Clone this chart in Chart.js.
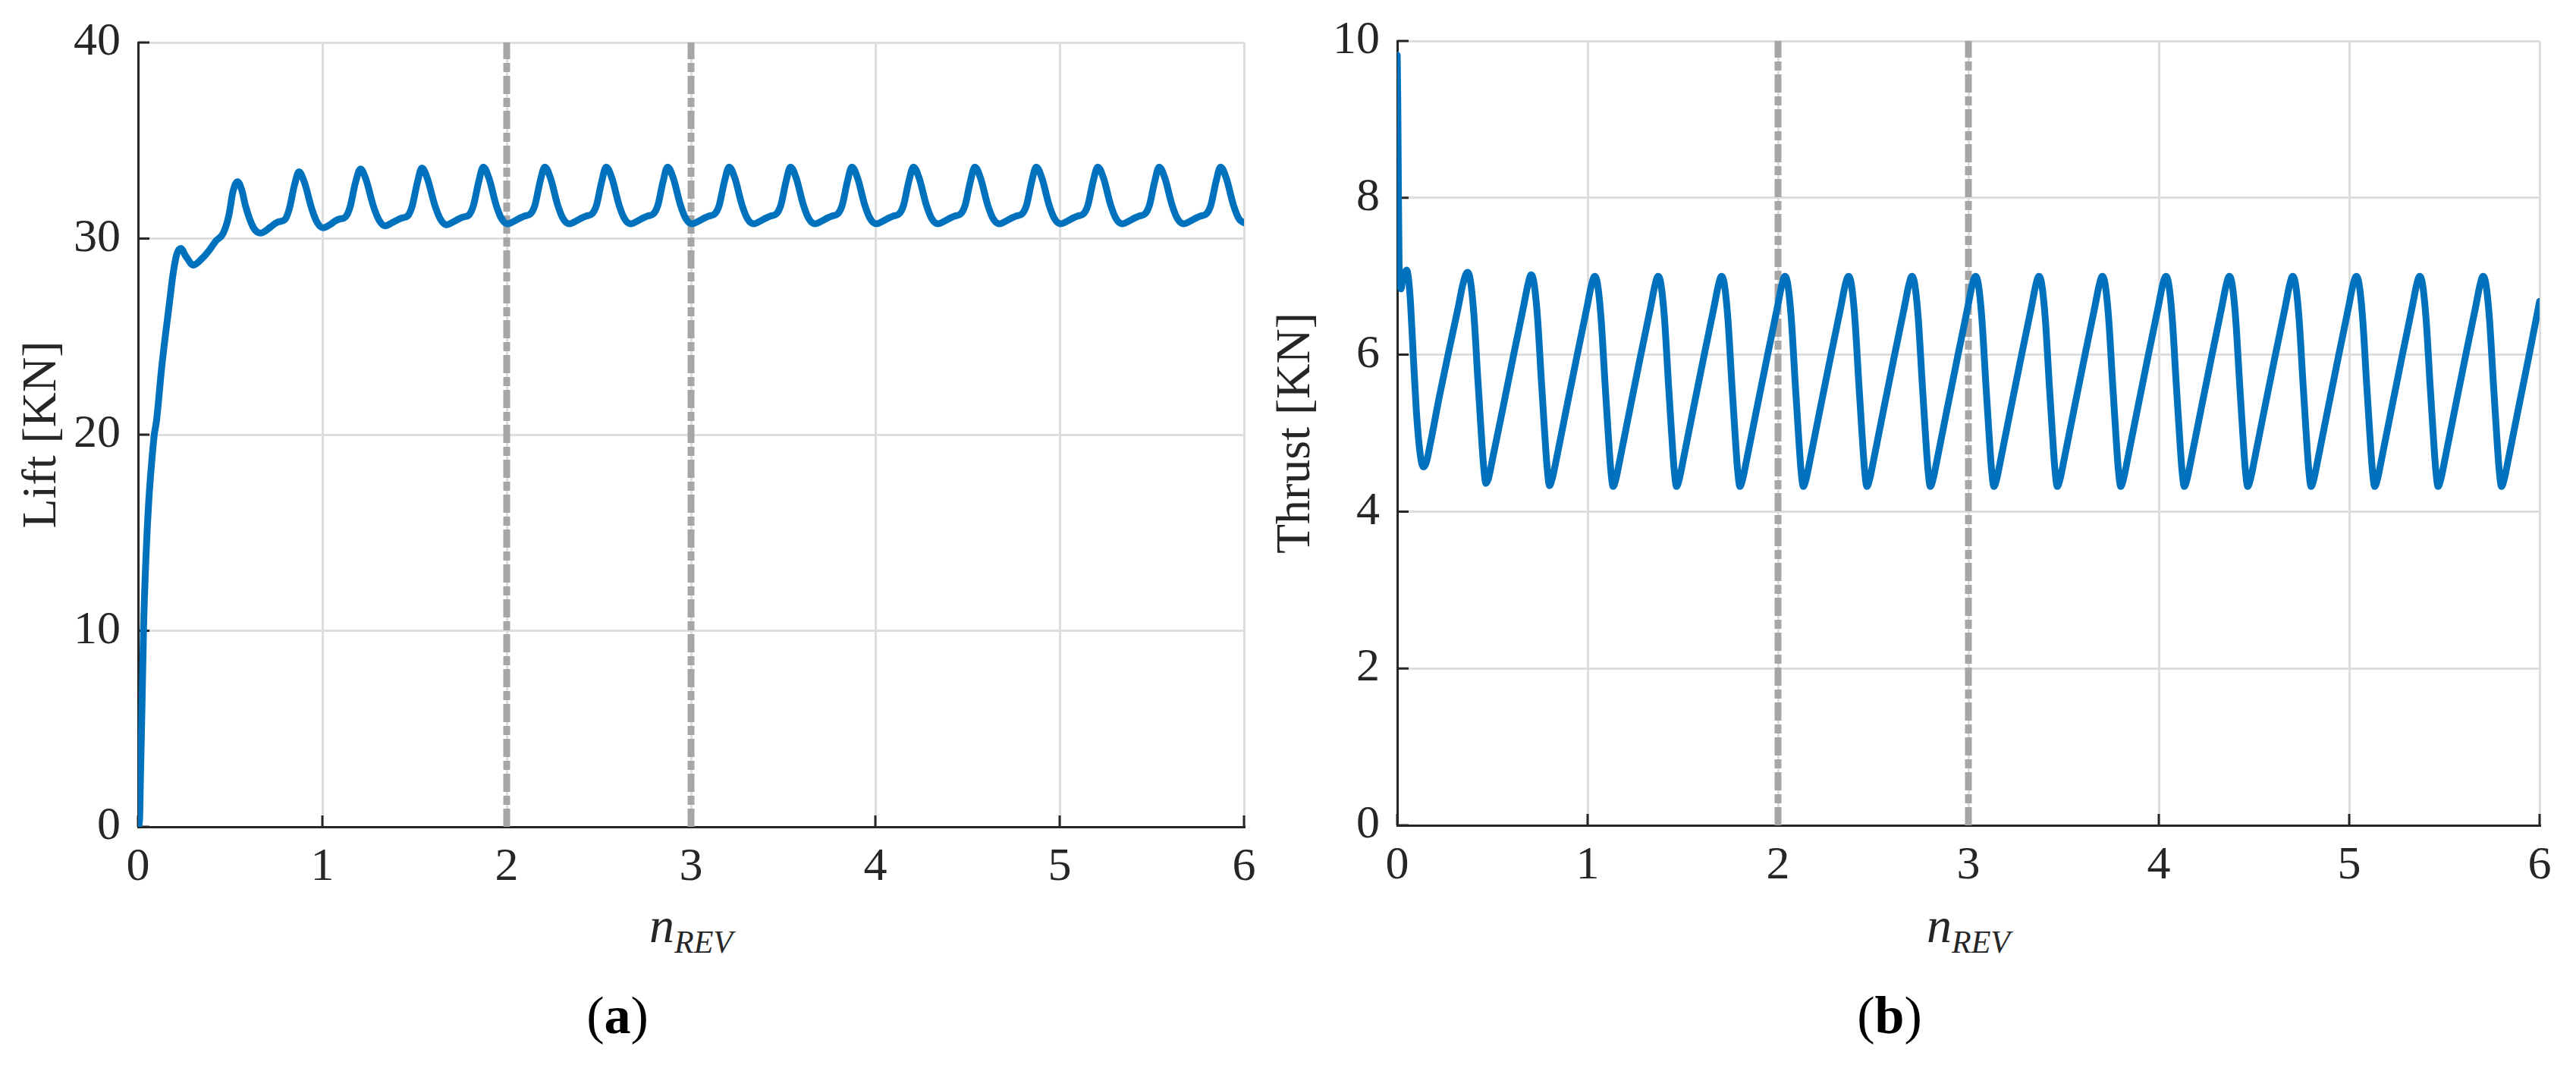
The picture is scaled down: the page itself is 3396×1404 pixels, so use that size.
<!DOCTYPE html>
<html>
<head>
<meta charset="utf-8">
<script src="https://cdn.jsdelivr.net/npm/chart.js@4.4.1/dist/chart.umd.min.js"></script>
<style>
  html, body { margin: 0; padding: 0; background: #fff; }
  #page { position: relative; width: 3396px; height: 1404px; overflow: hidden;
          font-family: 'Liberation Serif', 'DejaVu Serif', serif; color: #262626; }
  canvas { position: absolute; top: 0; }
  #liftCanvas { left: 0; }
  #thrustCanvas { left: 1660px; }
  .xtitle { position: absolute; top: 1187px; width: 400px; text-align: center;
            font-size: 66px; line-height: 66px; font-style: italic; }
  .xtitle sub { font-size: 42px; vertical-align: -14px; line-height: 0; }
  .caption { position: absolute; top: 1304px; width: 300px; text-align: center;
             font-size: 70px; line-height: 70px; color: #000; }
</style>
</head>
<body>
<div id="page">
  <canvas id="liftCanvas" width="1700" height="1180"></canvas>
  <canvas id="thrustCanvas" width="1736" height="1180"></canvas>
  <div class="xtitle" style="left:711px">n<sub>REV</sub></div>
  <div class="xtitle" style="left:2395px">n<sub>REV</sub></div>
  <div class="caption" style="left:664px">(<b>a</b>)</div>
  <div class="caption" style="left:2341px">(<b>b</b>)</div>
</div>
<script>
// axis ticks
const revTicks = [0, 1, 2, 3, 4, 5, 6];
const liftTicks = [0, 10, 20, 30, 40];
const thrustTicks = [0, 2, 4, 6, 8, 10];

// revolutions marked with the dashed lines
const revMarks = [2, 3];

// Lift [KN] vs n_REV
const liftRev = [
  0, 0.008, 0.013, 0.02, 0.03, 0.044, 0.058, 0.074, 0.088, 0.1, 0.129, 0.17, 0.19, 0.21, 0.232, 0.259, 0.3, 0.349, 0.39, 0.424, 0.461, 0.493, 0.515,
  0.54, 0.565, 0.582, 0.616, 0.64, 0.667, 0.69, 0.72, 0.76, 0.795, 0.82, 0.848,
  0.873, 0.903, 0.943, 0.973, 1.003, 1.04, 1.07, 1.095, 1.125, 1.15, 1.178,
  1.207, 1.237, 1.277, 1.307, 1.34, 1.377, 1.407, 1.432, 1.462, 1.487, 1.515,
  1.54, 1.57, 1.61, 1.64, 1.673, 1.71, 1.74, 1.765, 1.795, 1.82, 1.848,
  1.873, 1.903, 1.943, 1.973, 2.006, 2.043, 2.073, 2.098, 2.128, 2.153, 2.181,
  2.207, 2.237, 2.277, 2.307, 2.34, 2.377, 2.407, 2.432, 2.462, 2.487, 2.515,
  2.54, 2.57, 2.61, 2.64, 2.673, 2.71, 2.74, 2.765, 2.795, 2.82, 2.848,
  2.873, 2.903, 2.943, 2.973, 3.006, 3.043, 3.073, 3.098, 3.128, 3.153, 3.181,
  3.207, 3.237, 3.277, 3.307, 3.34, 3.377, 3.407, 3.432, 3.462, 3.487, 3.515,
  3.54, 3.57, 3.61, 3.64, 3.673, 3.71, 3.74, 3.765, 3.795, 3.82, 3.848,
  3.873, 3.903, 3.943, 3.973, 4.006, 4.043, 4.073, 4.098, 4.128, 4.153, 4.181,
  4.207, 4.237, 4.277, 4.307, 4.34, 4.377, 4.407, 4.432, 4.462, 4.487, 4.515,
  4.54, 4.57, 4.61, 4.64, 4.673, 4.71, 4.74, 4.765, 4.795, 4.82, 4.848,
  4.873, 4.903, 4.943, 4.973, 5.006, 5.043, 5.073, 5.098, 5.128, 5.153, 5.181,
  5.207, 5.237, 5.277, 5.307, 5.34, 5.377, 5.407, 5.432, 5.462, 5.487, 5.515,
  5.54, 5.57, 5.61, 5.64, 5.673, 5.71, 5.74, 5.765, 5.795, 5.82, 5.848,
  5.873, 5.903, 5.943, 5.973, 6.0
];
const liftKN = [
  0, 0.3, 2.5, 5.5, 10.2, 14.0, 16.6, 18.6, 20.0, 20.7, 23.5, 26.7, 28.2, 29.2, 29.5, 29.1, 28.65, 29.0, 29.45, 29.9, 30.25, 31.2, 32.4,
  32.9, 32.4, 31.7, 30.75, 30.38, 30.28, 30.38, 30.6, 30.85, 30.95, 31.5, 32.7,
  33.4, 32.85, 31.5, 30.8, 30.55, 30.7, 30.9, 31.0, 31.1, 31.6, 32.8,
  33.55, 33.0, 31.65, 30.95, 30.65, 30.8, 30.95, 31.05, 31.15, 31.65, 32.85,
  33.6, 33.05, 31.7, 31.0, 30.7, 30.85, 31.0, 31.1, 31.2, 31.7, 32.9,
  33.65, 33.1, 31.7, 31.0, 30.75, 30.9, 31.05, 31.15, 31.25, 31.7, 32.9,
  33.65, 33.1, 31.7, 31.0, 30.75, 30.9, 31.05, 31.15, 31.25, 31.7, 32.9,
  33.65, 33.1, 31.7, 31.0, 30.75, 30.9, 31.05, 31.15, 31.25, 31.7, 32.9,
  33.65, 33.1, 31.7, 31.0, 30.75, 30.9, 31.05, 31.15, 31.25, 31.7, 32.9,
  33.65, 33.1, 31.7, 31.0, 30.75, 30.9, 31.05, 31.15, 31.25, 31.7, 32.9,
  33.65, 33.1, 31.7, 31.0, 30.75, 30.9, 31.05, 31.15, 31.25, 31.7, 32.9,
  33.65, 33.1, 31.7, 31.0, 30.75, 30.9, 31.05, 31.15, 31.25, 31.7, 32.9,
  33.65, 33.1, 31.7, 31.0, 30.75, 30.9, 31.05, 31.15, 31.25, 31.7, 32.9,
  33.65, 33.1, 31.7, 31.0, 30.75, 30.9, 31.05, 31.15, 31.25, 31.7, 32.9,
  33.65, 33.1, 31.7, 31.0, 30.75, 30.9, 31.05, 31.15, 31.25, 31.7, 32.9,
  33.65, 33.1, 31.7, 31.0, 30.75, 30.9, 31.05, 31.15, 31.25, 31.7, 32.9,
  33.65, 33.1, 31.7, 31.0, 30.75, 30.9, 31.05, 31.15, 31.25, 31.7, 32.9,
  33.65, 33.1, 31.7, 31.0, 30.8
];

// Thrust [KN] vs n_REV
const thrustRev = [
  0, 0.003, 0.006, 0.01, 0.015, 0.02, 0.03, 0.04, 0.05, 0.06, 0.07, 0.084, 0.1, 0.115, 0.128, 0.138, 0.152, 0.175, 0.22, 0.267, 0.32, 0.345,
  0.369, 0.384, 0.403, 0.423, 0.44, 0.453, 0.466, 0.479, 0.503, 0.556, 0.609, 0.663, 0.687,
  0.703, 0.718, 0.737, 0.757, 0.774, 0.787, 0.8, 0.813, 0.837, 0.89, 0.943, 0.997, 1.021,
  1.037, 1.052, 1.071, 1.091, 1.108, 1.121, 1.134, 1.147, 1.171, 1.224, 1.277, 1.331, 1.355,
  1.37, 1.385, 1.404, 1.424, 1.441, 1.454, 1.467, 1.48, 1.504, 1.557, 1.61, 1.664, 1.688,
  1.703, 1.718, 1.737, 1.757, 1.774, 1.787, 1.8, 1.813, 1.837, 1.89, 1.943, 1.997, 2.021,
  2.036, 2.051, 2.07, 2.09, 2.107, 2.12, 2.133, 2.146, 2.17, 2.223, 2.276, 2.33, 2.354,
  2.37, 2.385, 2.404, 2.424, 2.441, 2.454, 2.467, 2.48, 2.504, 2.557, 2.61, 2.664, 2.688,
  2.703, 2.718, 2.737, 2.757, 2.774, 2.787, 2.8, 2.813, 2.837, 2.89, 2.943, 2.997, 3.021,
  3.037, 3.052, 3.071, 3.091, 3.108, 3.121, 3.134, 3.147, 3.171, 3.224, 3.277, 3.331, 3.355,
  3.37, 3.385, 3.404, 3.424, 3.441, 3.454, 3.467, 3.48, 3.504, 3.557, 3.61, 3.664, 3.688,
  3.703, 3.718, 3.737, 3.757, 3.774, 3.787, 3.8, 3.813, 3.837, 3.89, 3.943, 3.997, 4.021,
  4.037, 4.052, 4.071, 4.091, 4.108, 4.121, 4.134, 4.147, 4.171, 4.224, 4.277, 4.331, 4.355,
  4.37, 4.385, 4.404, 4.424, 4.441, 4.454, 4.467, 4.48, 4.504, 4.557, 4.61, 4.664, 4.688,
  4.703, 4.718, 4.737, 4.757, 4.774, 4.787, 4.8, 4.813, 4.837, 4.89, 4.943, 4.997, 5.021,
  5.037, 5.052, 5.071, 5.091, 5.108, 5.121, 5.134, 5.147, 5.171, 5.224, 5.277, 5.331, 5.355,
  5.37, 5.385, 5.404, 5.424, 5.441, 5.454, 5.467, 5.48, 5.504, 5.557, 5.61, 5.664, 5.688,
  5.703, 5.718, 5.737, 5.757, 5.774, 5.787, 5.8, 5.813, 5.837, 5.89, 5.943, 6.0
];
const thrustKN = [
  9.82, 9.2, 8.2, 7.1, 6.9, 6.84, 7.0, 7.05, 7.08, 6.95, 6.65, 6.0, 5.3, 4.85, 4.62, 4.57, 4.62, 4.88, 5.45, 6.0, 6.6, 6.9,
  7.05, 6.95, 6.5, 5.7, 5.05, 4.6, 4.36, 4.42, 4.7, 5.33, 5.97, 6.61, 6.9,
  7.02, 6.92, 6.47, 5.67, 5.02, 4.57, 4.33, 4.41, 4.68, 5.33, 5.97, 6.61, 6.9,
  7.0, 6.9, 6.45, 5.65, 5.0, 4.55, 4.32, 4.4, 4.68, 5.33, 5.97, 6.61, 6.9,
  7.0, 6.9, 6.45, 5.65, 5.0, 4.55, 4.32, 4.4, 4.68, 5.33, 5.97, 6.61, 6.9,
  7.0, 6.9, 6.45, 5.65, 5.0, 4.55, 4.32, 4.4, 4.68, 5.33, 5.97, 6.61, 6.9,
  7.0, 6.9, 6.45, 5.65, 5.0, 4.55, 4.32, 4.4, 4.68, 5.33, 5.97, 6.61, 6.9,
  7.0, 6.9, 6.45, 5.65, 5.0, 4.55, 4.32, 4.4, 4.68, 5.33, 5.97, 6.61, 6.9,
  7.0, 6.9, 6.45, 5.65, 5.0, 4.55, 4.32, 4.4, 4.68, 5.33, 5.97, 6.61, 6.9,
  7.0, 6.9, 6.45, 5.65, 5.0, 4.55, 4.32, 4.4, 4.68, 5.33, 5.97, 6.61, 6.9,
  7.0, 6.9, 6.45, 5.65, 5.0, 4.55, 4.32, 4.4, 4.68, 5.33, 5.97, 6.61, 6.9,
  7.0, 6.9, 6.45, 5.65, 5.0, 4.55, 4.32, 4.4, 4.68, 5.33, 5.97, 6.61, 6.9,
  7.0, 6.9, 6.45, 5.65, 5.0, 4.55, 4.32, 4.4, 4.68, 5.33, 5.97, 6.61, 6.9,
  7.0, 6.9, 6.45, 5.65, 5.0, 4.55, 4.32, 4.4, 4.68, 5.33, 5.97, 6.61, 6.9,
  7.0, 6.9, 6.45, 5.65, 5.0, 4.55, 4.32, 4.4, 4.68, 5.33, 5.97, 6.61, 6.9,
  7.0, 6.9, 6.45, 5.65, 5.0, 4.55, 4.32, 4.4, 4.68, 5.33, 5.97, 6.61, 6.9,
  7.0, 6.9, 6.45, 5.65, 5.0, 4.55, 4.32, 4.4, 4.68, 5.33, 5.97, 6.61, 6.9,
  7.0, 6.9, 6.45, 5.65, 5.0, 4.55, 4.32, 4.4, 4.68, 5.33, 5.97, 6.68
];

const BLUE = '#0072BD';
const INK = '#262626';
const GRID = '#dedede';
const MARK = '#a6a6a6';
const FONT = "'Liberation Serif', 'DejaVu Serif', serif";

// short tick marks pointing into the plot, like the MATLAB axes
const innerTicks = {
  id: 'innerTicks',
  beforeDatasetsDraw(chart) {
    const { ctx, chartArea: a, scales: { x, y } } = chart;
    ctx.save();
    ctx.strokeStyle = INK;
    ctx.lineWidth = 3;
    ctx.beginPath();
    x.ticks.forEach(t => {
      const px = x.getPixelForValue(t.value);
      ctx.moveTo(px, a.bottom);
      ctx.lineTo(px, a.bottom - 15);
    });
    y.ticks.forEach(t => {
      const py = y.getPixelForValue(t.value);
      ctx.moveTo(a.left, py);
      ctx.lineTo(a.left + 15, py);
    });
    ctx.stroke();
    ctx.restore();
  }
};

function buildChart(id, xs, ys, yTicks, title, padding, titlePad) {
  const yMin = yTicks[0];
  const yMax = yTicks[yTicks.length - 1];
  const n = Math.min(xs.length, ys.length);
  const points = [];
  for (let i = 0; i < n; i++) points.push({ x: xs[i], y: ys[i] });

  const datasets = [{
    data: points,
    borderColor: BLUE,
    borderWidth: 9,
    pointRadius: 0,
    cubicInterpolationMode: 'monotone',
    borderJoinStyle: 'round',
    borderCapStyle: 'round'
  }];
  revMarks.forEach(m => {
    datasets.push({
      data: [{ x: m, y: yMin }, { x: m, y: yMax }],
      borderColor: MARK,
      borderWidth: 9,
      borderDash: [24, 5, 12, 5],
      pointRadius: 0
    });
  });

  const tickFont = { family: FONT, size: 62, lineHeight: 1 };

  return new Chart(document.getElementById(id), {
    type: 'line',
    data: { datasets },
    options: {
      responsive: false,
      animation: false,
      devicePixelRatio: 1,
      layout: { padding },
      plugins: { legend: { display: false }, tooltip: { enabled: false } },
      scales: {
        x: {
          type: 'linear',
          min: revTicks[0],
          max: revTicks[revTicks.length - 1],
          afterBuildTicks: s => { s.ticks = revTicks.map(v => ({ value: v })); },
          ticks: { padding: 23, color: INK, font: tickFont, maxRotation: 0 },
          grid: { color: GRID, lineWidth: 3, drawTicks: false },
          border: { color: INK, width: 3 },
          afterFit: s => { s.height = 90; }
        },
        y: {
          type: 'linear',
          min: yMin,
          max: yMax,
          afterBuildTicks: s => { s.ticks = yTicks.map(v => ({ value: v })); },
          ticks: { padding: 23, color: INK, font: tickFont },
          grid: { color: GRID, lineWidth: 3, drawTicks: false },
          border: { color: INK, width: 3 },
          title: {
            display: true,
            text: title,
            color: INK,
            font: { family: FONT, size: 64, lineHeight: 1 },
            padding: { top: titlePad, bottom: 0 }
          },
          afterFit: s => { s.width = 182; }
        }
      }
    },
    plugins: [innerTicks]
  });
}

// plot boxes: lift 182..1640 x 56..1090, thrust 1842..3348 x 53..1088
buildChart('liftCanvas', liftRev, liftKN, liftTicks, 'Lift [KN]',
  { left: 0, top: 56, right: 60, bottom: 0 }, 24);
buildChart('thrustCanvas', thrustRev, thrustKN, thrustTicks, 'Thrust [KN]',
  { left: 0, top: 53, right: 48, bottom: 2 }, 17);
</script>
</body>
</html>
